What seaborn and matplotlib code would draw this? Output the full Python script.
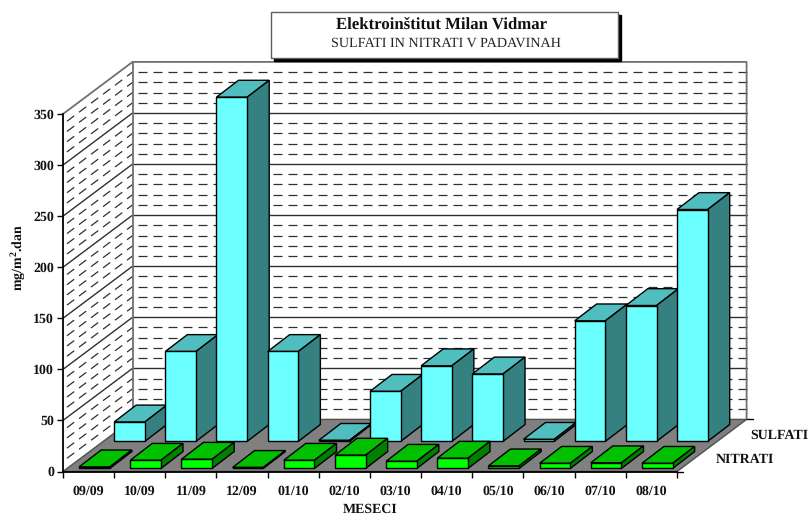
import numpy as np
import pandas as pd
import matplotlib
matplotlib.use("Agg")
import matplotlib.pyplot as plt
from matplotlib.patches import Polygon, Rectangle
from matplotlib.transforms import Affine2D
import seaborn as sns

months = ['09/09', '10/09', '11/09', '12/09', '01/10', '02/10',
          '03/10', '04/10', '05/10', '06/10', '07/10', '08/10']
sulfati = [19, 88, 337, 88, 1, 49, 74, 66, 2, 118, 133, 227]
nitrati = [1.5, 8, 9, 1, 8, 13, 7, 10, 2.5, 5, 5.5, 5]
y_major = [0, 50, 100, 150, 200, 250, 300, 350]

W, H = 810, 515

# depth of the fake 3d box, in data units (categories, values)
WALL_DX, WALL_DY = 1.36, 51
BAR_DX, BAR_DY = 0.43, 16.5
SULF_SHIFT = (0.8, 29.5)
NITR_SHIFT = (0.115, 3)


def px(x, y):
    return x / W, 1 - y / H


def draw_depth(ax, bars, shift, top_c, side_c, base_z):
    # moves the flat seaborn bars back and adds the top and side faces
    tr = Affine2D().translate(*shift) + ax.transData
    for i, bar in enumerate(bars):
        x0, x1 = bar.get_x(), bar.get_x() + bar.get_width()
        y0, y1 = bar.get_y(), bar.get_y() + bar.get_height()
        z = base_z + i
        bar.set_transform(tr)
        bar.set_clip_on(False)
        bar.set_zorder(z + 0.5)
        top = [(x0, y1), (x1, y1), (x1 + BAR_DX, y1 + BAR_DY), (x0 + BAR_DX, y1 + BAR_DY)]
        side = [(x1, y0), (x1 + BAR_DX, y0 + BAR_DY), (x1 + BAR_DX, y1 + BAR_DY), (x1, y1)]
        for pts, c in ((top, top_c), (side, side_c)):
            ax.add_patch(Polygon(pts, closed=True, facecolor=c, edgecolor='black', lw=1,
                                 transform=tr, clip_on=False, zorder=z))


sns.set_style("ticks")
plt.rcParams['font.family'] = ['Liberation Serif', 'DejaVu Serif']
plt.rcParams['mathtext.fontset'] = 'custom'
plt.rcParams['mathtext.bf'] = 'Liberation Serif:bold'
plt.rcParams['mathtext.rm'] = 'Liberation Serif:bold'
plt.rcParams['text.hinting'] = 'none'

fig = plt.figure(figsize=(W / 100, H / 100), dpi=100)
left, bottom = px(63, 471.5)
right, top = px(677, 114)
ax = fig.add_axes([left, bottom, right - left, top - bottom])

df = pd.DataFrame({'mesec': months, 'sulfati': sulfati, 'nitrati': nitrati})
bar_kw = dict(width=0.6, saturation=1, edgecolor='black', linewidth=1, ax=ax)
sns.barplot(data=df, x='mesec', y='sulfati', color='#6CFFFF', **bar_kw)
sns.barplot(data=df, x='mesec', y='nitrati', color='#00FF00', **bar_kw)
x_lo, x_hi = -0.5, len(months) - 0.5
ax.set_xlim(x_lo, x_hi)
ax.set_ylim(0, 350)

draw_depth(ax, ax.containers[0], SULF_SHIFT, '#50BEBE', '#358080', 10)
draw_depth(ax, ax.containers[1], NITR_SHIFT, '#00C000', '#008000', 30)

# floor
floor = [(x_lo, 0), (x_hi, 0), (x_hi + WALL_DX, WALL_DY), (x_lo + WALL_DX, WALL_DY)]
ax.add_patch(Polygon(floor, closed=True, facecolor='#808080', edgecolor='#505050', lw=1,
                     clip_on=False, zorder=4))

# walls, dashed every 10, solid every 50
dash = (8, (7.2, 4.8))
for v in range(10, 350, 10):
    major = v in y_major
    style = dict(color='#303030', lw=1 if major else 0.9, clip_on=False, zorder=2)
    if not major:
        style['linestyle'] = dash
    ax.plot([x_lo, x_lo + WALL_DX], [v, v + WALL_DY], **style)
    ax.plot([x_lo + WALL_DX, x_hi + WALL_DX], [v + WALL_DY, v + WALL_DY], **style)

# wall outline
outline = dict(color='#707070', lw=1.3, clip_on=False, zorder=3)
ax.plot([x_lo, x_lo + WALL_DX, x_hi + WALL_DX, x_hi + WALL_DX],
        [350, 350 + WALL_DY, 350 + WALL_DY, WALL_DY], **outline)
ax.plot([x_lo + WALL_DX, x_lo + WALL_DX], [WALL_DY, 350 + WALL_DY], **outline)

# little ticks on the depth axis
tick_len = 0.125
ax.plot([x_hi, x_hi + tick_len], [0, 0], color='black', lw=1, clip_on=False, zorder=5)
ax.plot([x_hi + WALL_DX, x_hi + WALL_DX + tick_len], [WALL_DY, WALL_DY], color='black', lw=1,
        clip_on=False, zorder=5)

sns.despine(ax=ax, top=True, right=True)
ax.patch.set_alpha(0)
for s in ['left', 'bottom']:
    ax.spines[s].set_linewidth(1.3)
    ax.spines[s].set_color('black')
    ax.spines[s].set_zorder(50)

ax.set_yticks(y_major)
ax.set_yticklabels([str(v) for v in y_major], fontsize=10, fontweight='bold')
ax.set_xticks(range(len(months)))
ax.set_xticklabels(months, fontsize=10, fontweight='bold')
ax.set_xticks(np.arange(x_lo, x_hi + 0.5), minor=True)
ax.tick_params(axis='x', which='major', length=0, pad=10, colors='#111111')
ax.tick_params(axis='x', which='minor', length=4.5, width=1, color='black')
ax.tick_params(axis='y', length=4.5, width=1, pad=2, color='black', labelcolor='#111111')

ax.set_xlabel('')
ax.set_ylabel('')
x, y = px(370, 509)
fig.text(x, y, 'MESECI', fontsize=10, fontweight='bold', ha='center', va='center', color='#111111')
x, y = px(18, 258)
fig.text(x, y, r'mg/m$^{\mathbf{2}}$.dan', fontsize=10, fontweight='bold', rotation=90,
         ha='center', va='center', color='#111111')
x, y = px(779, 435)
fig.text(x, y, 'SULFATI', fontsize=10, fontweight='bold', ha='center', va='center', color='#111111')
x, y = px(745, 460)
fig.text(x, y, 'NITRATI', fontsize=10, fontweight='bold', ha='center', va='center', color='#111111')

# title box with its shadow
x0, y1 = px(271, 57.5)
x1, y0 = px(617.5, 12)
ox, oy = 3 / W, 3 / H
fig.add_artist(Rectangle((x0 + ox, y1 - oy), x1 - x0, y0 - y1, transform=fig.transFigure,
                         facecolor='black', edgecolor='black', lw=1, zorder=60))
fig.add_artist(Rectangle((x0, y1), x1 - x0, y0 - y1, transform=fig.transFigure,
                         facecolor='white', edgecolor='#606060', lw=1, zorder=61))
x, y = px(442, 26)
fig.text(x, y, 'Elektroinštitut Milan Vidmar', fontsize=12.1, fontweight='bold',
         ha='center', va='center', color='#111111', zorder=62)
x, y = px(446, 43.5)
fig.text(x, y, 'SULFATI IN NITRATI V PADAVINAH', fontsize=10.2, ha='center', va='center',
         color='#222222', zorder=62)

fig.savefig('out.png', dpi=100)
